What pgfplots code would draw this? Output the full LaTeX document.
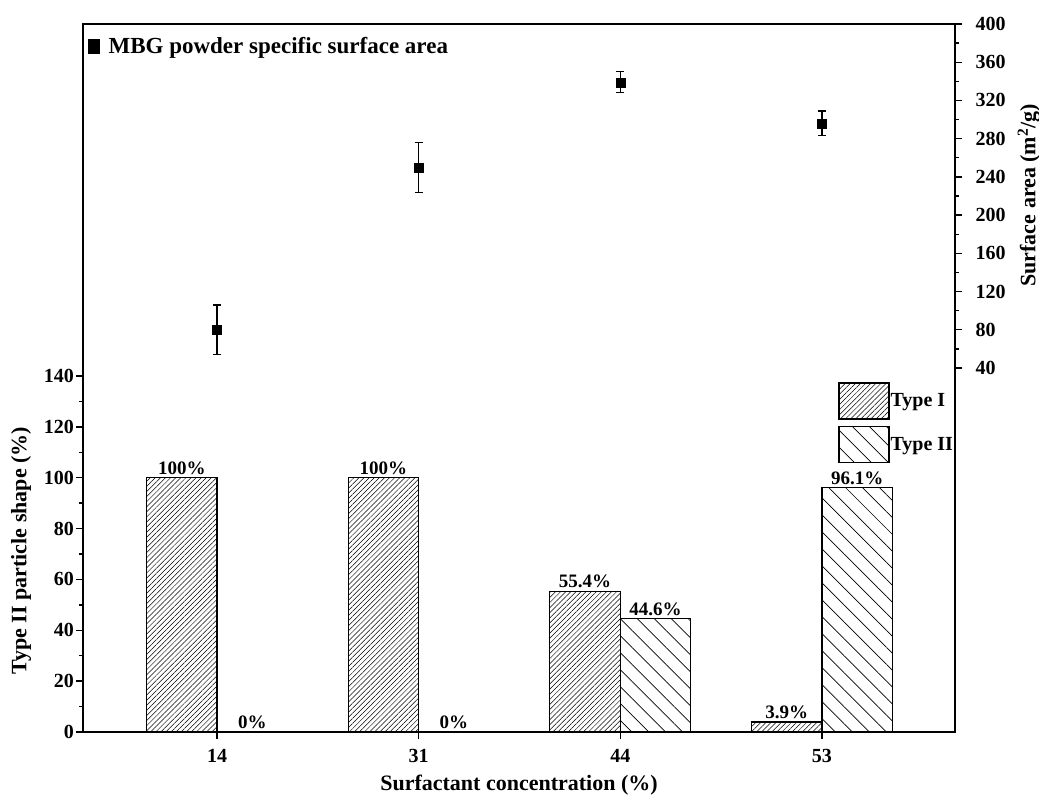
\documentclass[border=0pt]{standalone}
\usepackage{fontspec}
\setmainfont{Liberation Serif}
\usepackage{pgfplots}
\pgfplotsset{compat=1.18}
\usetikzlibrary{patterns.meta}

\begin{document}
\begin{tikzpicture}
\pgfplotsset{
  every axis/.append style={
    scale only axis, width=872pt, height=708pt,
    xmin=-0.665, xmax=3.66,
    tick align=outside,
    major tick length=7pt, minor tick length=4pt,
    every tick/.style={black, line width=1.4pt},
    axis line style={line width=1.8pt},
    /pgf/number format/assume math mode=true,
    tick label style={font=\bfseries\fontsize{20}{24}\selectfont},
    label style={font=\bfseries\fontsize{22}{26}\selectfont},
  }
}
\begin{axis}[name=ax,
  ybar,
  ymin=0, ymax=278.4,
  ytick={0,20,...,140}, minor ytick={10,30,...,130},
  xtick={0,1,2,3}, xticklabels={14,31,44,53},
  xtick pos=left, ytick pos=left,
  yticklabel style={inner sep=2pt},
  xticklabel style={yshift=-7pt},
  xlabel={Surfactant concentration (\%)},
  xlabel style={yshift=-5pt},
  ylabel={Type II particle shape (\%)},
  ylabel style={at={(axis description cs:-0.0711,0.256)}, anchor=center},
  nodes near coords,
  point meta=explicit symbolic,
  every node near coord/.append style={font=\bfseries\fontsize{19}{22}\selectfont, black, inner sep=2.5pt},
  legend style={draw=none, fill=none, at={(axis description cs:0.866,0.494)}, anchor=north west,
    inner sep=0pt, row sep=6pt, font=\bfseries\fontsize{20}{24}\selectfont,
    nodes={inner sep=1pt}},
  legend cell align=left,
  legend image code/.code={\draw[#1] (0pt,-18pt) rectangle (50pt,18pt);},
]
\addplot[draw=black, line width=1.2pt, bar width=0.35, bar shift=-0.175,
  pattern={Lines[angle=45,distance=3.6pt,line width=0.5pt]}]
  coordinates {(0,100)[100\%] (1,100)[100\%] (2,55.4)[55.4\%] (3,3.9)[3.9\%]};
\addlegendentry{Type I}
\addplot[draw=black, line width=1.2pt, bar width=0.35, bar shift=0.175,
  pattern={Lines[angle=-45,distance=12pt,line width=0.7pt]}]
  coordinates {(0,0)[0\%] (1,0)[0\%] (2,44.6)[44.6\%] (3,96.1)[96.1\%]};
\addlegendentry{Type II}
\end{axis}
\begin{axis}[
  ymin=-340.9, ymax=400,
  hide x axis, axis y line*=right,
  ytick={40,80,...,400}, minor ytick={60,100,...,380},
  yticklabel style={xshift=10pt},
  ylabel={Surface area (m\textsuperscript{2}/g)},
  ylabel style={at={(axis description cs:1.0849,0.758)}, anchor=center},
  legend style={draw=none, fill=none, at={(axis description cs:0,1)}, anchor=north west,
    xshift=2pt, yshift=-9pt, font=\bfseries\fontsize{23}{27}\selectfont},
  legend image code/.code={\fill[black] (0pt,-7pt) rectangle (11pt,7pt); \path (18pt,0pt);},
]
\addplot[only marks, mark=square*, mark size=4.5pt, black,
  error bars/.cd, y dir=both, y explicit,
  error bar style={line width=1.2pt, black},
  error mark options={rotate=90, mark size=4pt, line width=1.2pt}]
  coordinates {(0,80) +- (0,26) (1,250) +- (0,26) (2,339) +- (0,11) (3,296) +- (0,13)};
\addlegendentry{MBG powder specific surface area}
\end{axis}
\pgfresetboundingbox
\path[use as bounding box] ([shift={(-83pt,-64pt)}]ax.south west) rectangle ([shift={(84pt,24pt)}]ax.north east);
\end{tikzpicture}
\end{document}
